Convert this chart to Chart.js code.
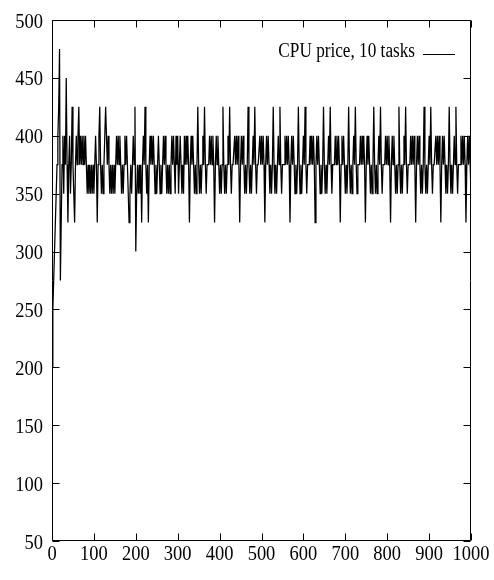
<!DOCTYPE html>
<html>
<head>
<meta charset="utf-8">
<script src="https://cdn.jsdelivr.net/npm/chart.js@4.4.0/dist/chart.umd.min.js"></script>
<style>
  html, body { margin: 0; padding: 0; background: #fff; }
</style>
</head>
<body>
<canvas id="chartPrice" width="494" height="580"></canvas>
<script>
const seriesLabel = "CPU price, 10 tasks";
const sampleStep = 2; // one price sample every 2 time steps

const xTicks = [0, 100, 200, 300, 400, 500, 600, 700, 800, 900, 1000];
const yTicks = [50, 100, 150, 200, 250, 300, 350, 400, 450, 500];

// price, t = 0, 2, 4 ... 1000
const price = [
  // start-up, t 0..314
  200,250,275,300,325,350,375,400,425,475,
  275,325,375,400,350,400,375,450,375,325,
  375,400,350,375,425,375,350,325,375,400,
  375,400,425,375,400,375,400,375,400,375,
  400,375,350,375,350,375,350,375,350,375,
  350,375,400,375,325,375,400,425,375,350,
  375,350,375,400,425,400,375,400,375,350,
  375,350,375,350,375,350,375,400,375,400,
  375,400,375,350,375,350,375,400,375,400,
  375,350,325,350,375,350,375,400,375,425,
  300,350,375,350,375,350,375,325,375,400,
  375,425,375,350,375,325,375,400,375,400,
  375,400,375,350,375,350,375,400,375,350,
  375,350,375,400,375,400,375,350,375,350,
  375,350,375,400,375,400,375,350,400,375,
  400,350,375,400,375,350,375,350,
  // settled, t 316..1000
  400,375,400,375,400,375,325,375,400,375,400,375,350,375,350,375,425,375,350,375,350,375,400,375,425,375,350,375,375,375,
  400,375,400,375,400,375,325,375,400,375,400,375,350,375,350,375,425,375,350,375,350,375,400,375,425,375,350,375,375,375,
  400,375,400,375,400,375,325,375,400,375,400,375,350,375,350,375,425,375,350,375,350,375,400,375,425,375,350,375,375,375,
  400,375,400,375,400,375,325,375,400,375,400,375,350,375,350,375,425,375,350,375,350,375,400,375,425,375,350,375,375,375,
  400,375,400,375,400,375,325,375,400,375,400,375,350,375,350,375,425,375,350,375,350,375,400,375,425,375,350,375,375,375,
  400,375,400,375,400,375,325,375,400,375,400,375,350,375,350,375,425,375,350,375,350,375,400,375,425,375,350,375,375,375,
  400,375,400,375,400,375,325,375,400,375,400,375,350,375,350,375,425,375,350,375,350,375,400,375,425,375,350,375,375,375,
  400,375,400,375,400,375,325,375,400,375,400,375,350,375,350,375,425,375,350,375,350,375,400,375,425,375,350,375,375,375,
  400,375,400,375,400,375,325,375,400,375,400,375,350,375,350,375,425,375,350,375,350,375,400,375,425,375,350,375,375,375,
  400,375,400,375,400,375,325,375,400,375,400,375,350,375,350,375,425,375,350,375,350,375,400,375,425,375,350,375,375,375,
  400,375,400,375,400,375,325,375,400,375,400,375,350,375,350,375,425,375,350,375,350,375,400,375,425,375,350,375,375,375,
  400,375,400,375,400,375,325,375,400,375,400,375,350
];

const points = price.map((v, i) => ({ x: i * sampleStep, y: v }));

const fontFace = "'Liberation Serif', 'Times New Roman', serif";

// condensed text like the gnuplot postscript output
function narrowText(ctx, text, x, y, align, squeeze) {
  ctx.save();
  ctx.translate(x, y);
  ctx.scale(squeeze, 1);
  ctx.textAlign = align;
  ctx.fillText(text, 0, 0);
  ctx.restore();
}

const framePlugin = {
  id: 'frame',
  afterDraw(chart) {
    const { ctx, chartArea: a, scales } = chart;
    const L = Math.round(a.left) + 0.5, R = Math.round(a.right) - 0.5;
    const T = Math.round(a.top) + 0.5, B = Math.round(a.bottom) - 0.5;
    const tick = 7;
    ctx.save();
    ctx.strokeStyle = '#000';
    ctx.fillStyle = '#000';
    ctx.lineWidth = 1;
    ctx.beginPath();
    ctx.rect(L, T, R - L, B - T);
    xTicks.forEach(v => {
      const px = Math.round(scales.x.getPixelForValue(v)) + 0.5;
      ctx.moveTo(px, B); ctx.lineTo(px, B - tick);
      ctx.moveTo(px, T); ctx.lineTo(px, T + tick);
    });
    yTicks.forEach(v => {
      const py = Math.round(scales.y.getPixelForValue(v)) + 0.5;
      ctx.moveTo(L, py); ctx.lineTo(L + tick, py);
      ctx.moveTo(R, py); ctx.lineTo(R - tick, py);
    });
    ctx.stroke();

    ctx.font = '22px ' + fontFace;
    ctx.textBaseline = 'alphabetic';
    xTicks.forEach(v => {
      narrowText(ctx, String(v), scales.x.getPixelForValue(v), 560, 'center', 0.84);
    });
    yTicks.forEach(v => {
      narrowText(ctx, String(v), 43, scales.y.getPixelForValue(v) + 7.5, 'right', 0.84);
    });

    // key
    ctx.font = '20px ' + fontFace;
    narrowText(ctx, chart.data.datasets[0].label, 415, 57, 'right', 0.86);
    ctx.beginPath();
    ctx.moveTo(423, 54.5);
    ctx.lineTo(455, 54.5);
    ctx.stroke();
    ctx.restore();
  }
};

new Chart(document.getElementById('chartPrice').getContext('2d'), {
  type: 'line',
  data: {
    datasets: [{
      label: seriesLabel,
      data: points,
      borderColor: '#000',
      borderWidth: 1.25,
      pointRadius: 0,
      fill: false,
      tension: 0
    }]
  },
  options: {
    responsive: false,
    animation: false,
    layout: { padding: { top: 20, right: 23, left: 0, bottom: 0 } },
    plugins: { legend: { display: false }, tooltip: { enabled: false } },
    scales: {
      x: {
        type: 'linear', min: 0, max: 1000,
        afterBuildTicks: s => { s.ticks = xTicks.map(v => ({ value: v })); },
        afterFit: s => { s.height = 39; },
        grid: { display: false }, border: { display: false }, ticks: { display: false }
      },
      y: {
        min: 50, max: 500,
        afterBuildTicks: s => { s.ticks = yTicks.map(v => ({ value: v })); },
        afterFit: s => { s.width = 52; },
        grid: { display: false }, border: { display: false }, ticks: { display: false }
      }
    }
  },
  plugins: [framePlugin]
});
</script>
</body>
</html>
